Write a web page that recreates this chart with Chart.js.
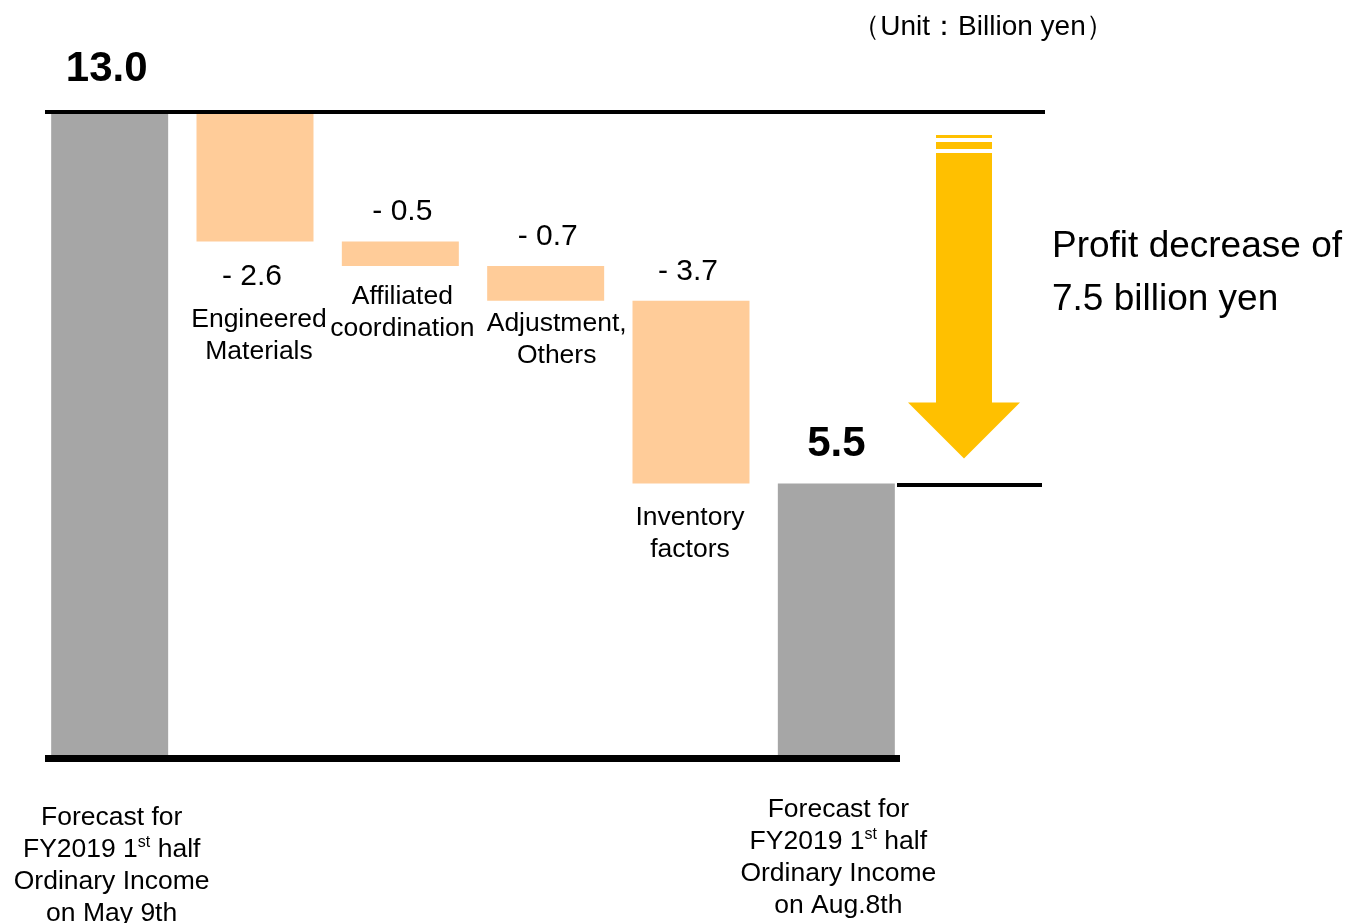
<!DOCTYPE html>
<html>
<head>
<meta charset="utf-8">
<script src="https://cdn.jsdelivr.net/npm/chart.js@4.4.1/dist/chart.umd.min.js"></script>
<style>
  html, body { margin: 0; padding: 0; background: #ffffff; }
  #wrap { width: 1359px; height: 923px; position: relative; }
  canvas { display: block; }
</style>
</head>
<body>
<div id="wrap"><canvas id="c" width="1359" height="923"></canvas></div>
<script>
// ---------- DATA ----------
const startValue = 13.0;
const endValue = 5.5;
const changeValues = [-2.6, -0.5, -0.7, -3.7];
const changeNames = [["Engineered", "Materials"], ["Affiliated", "coordination"], ["Adjustment,", "Others"], ["Inventory", "factors"]];
const startName = ["Forecast for", "FY2019 1|st| half", "Ordinary Income", "on May 9th"];
const endName = ["Forecast for", "FY2019 1|st| half", "Ordinary Income", "on Aug.8th"];
const valueTexts = ["13.0", "- 2.6", "- 0.5", "- 0.7", "- 3.7", "5.5"];
const unitText = "（Unit：Billion yen）";
const noteLines = ["Profit decrease of", "7.5 billion yen"];
const yMin = 0;
const yMax = 13.0;

// ---------- build waterfall ranges ----------
const categories = [startName.join(" "), ...changeNames.map(n => n.join(" ")), endName.join(" ")];
const ranges = [];
ranges.push([0, startValue]);
let level = startValue;
changeValues.forEach(v => {
  const next = Math.round((level + v) * 10) / 10;
  ranges.push([Math.min(level, next), Math.max(level, next)]);
  level = next;
});
ranges.push([0, endValue]);

const GRAY = "#A6A6A6";
const ORANGE = "#FFCC99";
const GOLD = "#FFC000";
const FONT = "'Liberation Sans', Arial, Helvetica, sans-serif";
const colors = ranges.map((r, i) => (i === 0 || i === ranges.length - 1) ? GRAY : ORANGE);

function drawSupText(ctx, text, cx, baseline, size) {
  const parts = text.split("|");
  const supSize = Math.round(size * 0.62);
  let total = 0;
  const widths = parts.map((p, i) => {
    ctx.font = (i % 2 === 1 ? supSize : size) + "px " + FONT;
    const w = ctx.measureText(p).width;
    total += w;
    return w;
  });
  let x = cx - total / 2;
  ctx.textAlign = "left";
  parts.forEach((p, i) => {
    const sup = i % 2 === 1;
    ctx.font = (sup ? supSize : size) + "px " + FONT;
    ctx.fillText(p, x, sup ? baseline - size * 0.36 : baseline);
    x += widths[i];
  });
}

const overlay = {
  id: "overlay",
  afterDatasetsDraw(chart) {
    const ctx = chart.ctx;
    const ys = chart.scales.y;
    const meta = chart.getDatasetMeta(0);
    const area = chart.chartArea;
    const yTop = ys.getPixelForValue(startValue);
    const yZero = ys.getPixelForValue(0);
    const yEnd = ys.getPixelForValue(endValue);
    ctx.save();

    // lines
    ctx.strokeStyle = "#000";
    ctx.lineCap = "butt";
    ctx.lineWidth = 4;
    ctx.beginPath(); ctx.moveTo(area.left + 8, yTop - 1); ctx.lineTo(1045, yTop - 1); ctx.stroke();
    ctx.lineWidth = 7;
    ctx.beginPath(); ctx.moveTo(area.left + 8, yZero + 3.5); ctx.lineTo(900, yZero + 3.5); ctx.stroke();
    ctx.lineWidth = 4;
    ctx.beginPath(); ctx.moveTo(897, yEnd + 1.5); ctx.lineTo(1042, yEnd + 1.5); ctx.stroke();

    // arrow
    ctx.fillStyle = GOLD;
    const s0 = yTop + 22;
    const tip = yEnd - 25;
    const headTop = tip - 56;
    ctx.fillRect(936, s0, 56, 3);
    ctx.fillRect(936, s0 + 7, 56, 7);
    ctx.fillRect(936, s0 + 18, 56, headTop - (s0 + 18) + 1);
    ctx.beginPath();
    ctx.moveTo(908, headTop);
    ctx.lineTo(1020, headTop);
    ctx.lineTo(964, tip);
    ctx.closePath();
    ctx.fill();

    // value labels
    ctx.fillStyle = "#000";
    ctx.textAlign = "center";
    ctx.textBaseline = "alphabetic";
    const bars = meta.data;
    const last = bars.length - 1;
    bars.forEach((bar, i) => {
      const top = Math.min(bar.y, bar.base);
      const bottom = Math.max(bar.y, bar.base);
      let x = bar.x, y, font;
      if (i === 0 || i === last) {
        font = "bold 42px " + FONT;
        y = top - (i === 0 ? 32 : 27);
        x += (i === 0 ? -3 : 0);
      } else if (i === 1) {
        font = "30px " + FONT;
        y = bottom + 44;
        x -= 3;
      } else {
        font = "30px " + FONT;
        y = top - 21;
        x += (i === 4 ? -3 : 2);
      }
      ctx.font = font;
      ctx.fillText(valueTexts[i], x, y);
    });

    // change category names
    const nameOffsets = [86, 38, 30, 42];
    const nameDx = [4, 2, 11, -1];
    ctx.font = "26.5px " + FONT;
    changeNames.forEach((lines, k) => {
      const bar = bars[k + 1];
      const bottom = Math.max(bar.y, bar.base);
      lines.forEach((ln, j) => {
        ctx.fillText(ln, bar.x + nameDx[k], bottom + nameOffsets[k] + j * 32);
      });
    });

    // total names below axis
    startName.forEach((ln, j) => drawSupText(ctx, ln, bars[0].x + 2, yZero + 70 + j * 32, 26.5));
    endName.forEach((ln, j) => drawSupText(ctx, ln, bars[last].x + 2, yZero + 62 + j * 32, 26.5));

    // unit + note
    ctx.textAlign = "center";
    ctx.font = "28px " + FONT;
    ctx.fillText(unitText, 983, 35);
    ctx.textAlign = "left";
    ctx.font = "37px " + FONT;
    ctx.fillText(noteLines[0], 1052, 257);
    ctx.fillText(noteLines[1], 1052, 310);
    ctx.restore();
  }
};

new Chart(document.getElementById("c"), {
  type: "bar",
  data: {
    labels: categories,
    datasets: [{
      data: ranges,
      backgroundColor: colors,
      borderWidth: 0,
      barPercentage: 0.805,
      categoryPercentage: 1.0
    }]
  },
  options: {
    responsive: false,
    animation: false,
    devicePixelRatio: 1,
    layout: { padding: { left: 37, right: 450, top: 113, bottom: 168 } },
    scales: {
      x: { display: false, grid: { display: false } },
      y: { display: false, min: yMin, max: yMax, grid: { display: false } }
    },
    plugins: { legend: { display: false }, tooltip: { enabled: false } }
  },
  plugins: [overlay]
});
</script>
</body>
</html>
